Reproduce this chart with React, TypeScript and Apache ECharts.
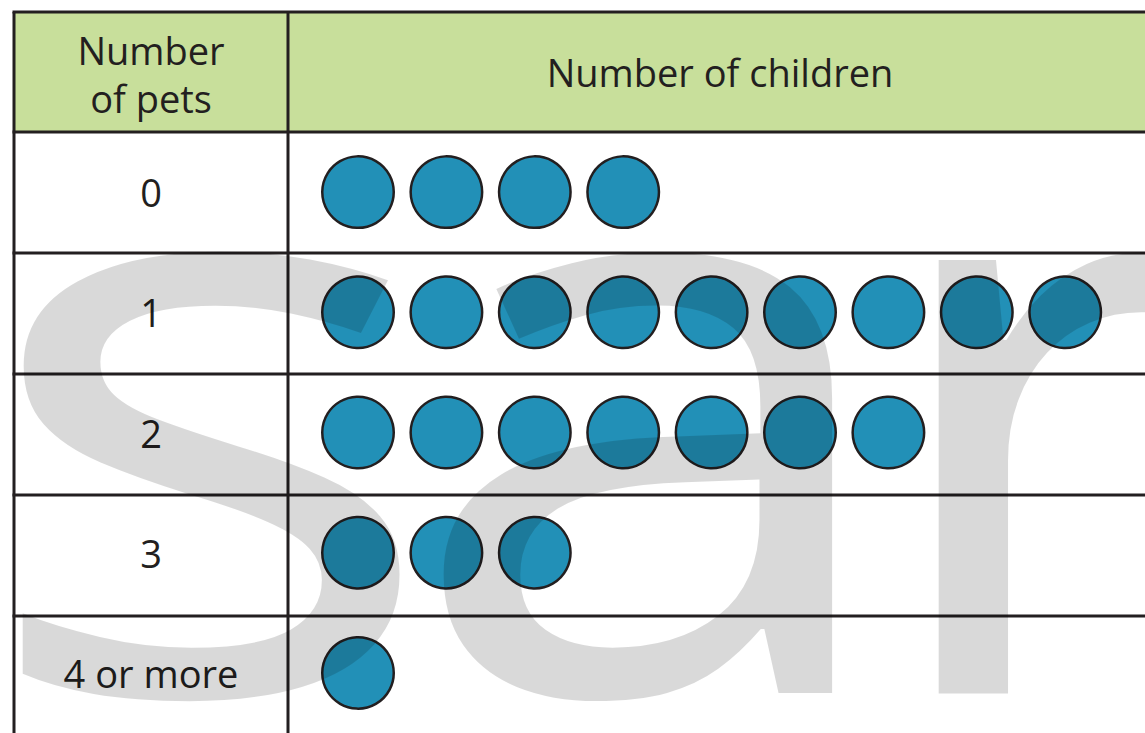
import React, { useEffect, useRef } from "react";
import * as echarts from "echarts";

const petLabels = ["0", "1", "2", "3", "4 or more"];
const childCounts = [4, 9, 7, 3, 1];
const headerLeft = "Number\nof pets";
const headerRight = "Number of children";
const watermark = "sar";

const W = 1145;
const H = 733;
const tableLeft = 14;
const tableTop = 12;
const colDiv = 288;
const headerBottom = 132;
const rowH = 121;
const lineColor = "#231f20";
const circleColor = "#2290b7";
const headerBg = "#c8df9b";
const font = "'Open Sans', 'Noto Sans', sans-serif";
const wmSize = 810;
const wmStretch = [1.22, 1.12, 1.05];
const wmLetterX = [-27, 402, 866];

export default function App() {
  const ref = useRef<HTMLDivElement>(null);
  useEffect(() => {
    if (!ref.current) return;
    const chart = echarts.init(ref.current, null, { renderer: "svg" });
    const points: number[][] = [];
    childCounts.forEach((n, row) => {
      for (let i = 0; i < n; i++) points.push([i, row]);
    });
    const unit = 88.4;
    const firstOffset = 70;
    const xMin = -firstOffset / unit;
    const xMax = xMin + (W - colDiv) / unit;

    const graphics: any[] = [];
    graphics.push({
      type: "rect",
      z: -10,
      shape: { x: tableLeft, y: tableTop, width: W - tableLeft, height: headerBottom - tableTop },
      style: { fill: headerBg },
    });
    const hLines = [tableTop, headerBottom];
    for (let r = 1; r <= petLabels.length - 1; r++) hLines.push(headerBottom + r * rowH);
    hLines.forEach((y) =>
      graphics.push({
        type: "line",
        z: 50,
        shape: { x1: tableLeft - 1.5, y1: y, x2: W, y2: y },
        style: { stroke: lineColor, lineWidth: 3 },
      })
    );
    [tableLeft, colDiv].forEach((x) =>
      graphics.push({
        type: "line",
        z: 50,
        shape: { x1: x, y1: tableTop, x2: x, y2: H },
        style: { stroke: lineColor, lineWidth: 3 },
      })
    );
    graphics.push({
      type: "text",
      z: 60,
      x: (tableLeft + colDiv) / 2,
      y: (tableTop + headerBottom) / 2 + 2,
      style: {
        text: headerLeft,
        fill: lineColor,
        font: `38px ${font}`,
        lineHeight: 48,
        textAlign: "center",
        textVerticalAlign: "middle",
      },
    });
    graphics.push({
      type: "text",
      z: 60,
      x: 720,
      y: (tableTop + headerBottom) / 2,
      style: {
        text: headerRight,
        fill: lineColor,
        font: `38px ${font}`,
        textAlign: "center",
        textVerticalAlign: "middle",
      },
    });
    const wmFont = `${wmSize}px ${font}`;
    watermark.split("").forEach((ch, i) => {
      graphics.push({
        type: "text",
        z: 100,
        x: wmLetterX[i],
        y: 379,
        scaleX: wmStretch[i],
        silent: true,
        style: {
          text: ch,
          fill: "rgba(0,0,0,0.15)",
          font: wmFont,
          textAlign: "left",
          textVerticalAlign: "middle",
        },
      });
    });

    chart.setOption({
      animation: false,
      grid: { left: colDiv, top: headerBottom, width: W - colDiv, height: rowH * petLabels.length },
      xAxis: {
        type: "value",
        min: xMin,
        max: xMax,
        show: false,
      },
      yAxis: {
        type: "category",
        inverse: true,
        data: petLabels,
        axisLine: { show: false },
        axisTick: { show: false },
        splitLine: { show: false },
        axisLabel: {
          margin: colDiv - (tableLeft + colDiv) / 2,
          align: "center",
          color: lineColor,
          fontSize: 38,
          fontFamily: font,
        },
      },
      graphic: graphics,
      series: [
        {
          type: "scatter",
          data: points,
          symbol: "circle",
          symbolSize: 71.5,
          z: 20,
          itemStyle: { color: circleColor, borderColor: lineColor, borderWidth: 2.5, opacity: 1 },
        },
      ],
    });
    return () => chart.dispose();
  }, []);
  return (
    <div
      ref={ref}
      style={{ position: "fixed", left: 0, top: 0, width: W, height: H, background: "#fff" }}
    />
  );
}
